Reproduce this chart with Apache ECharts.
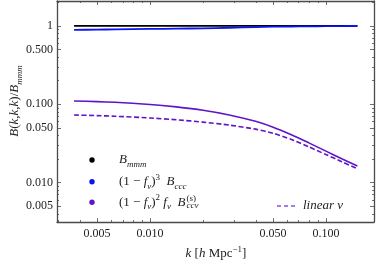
<!DOCTYPE html>
<html>
<head>
<meta charset="utf-8">
<script src="https://cdn.jsdelivr.net/npm/echarts@6/dist/echarts.min.js"></script>
<style>html,body{margin:0;padding:0;background:#fff}#c{width:379px;height:268px}</style>
</head>
<body>
<div id="c"></div>
<script>
// ---- data ----
const kValues = [0.0037, 0.005, 0.0063, 0.01, 0.0141, 0.02, 0.0282, 0.0398, 0.0501, 0.0631, 0.0794, 0.1, 0.123, 0.151];
const bMmm = [1, 1, 1, 1, 1, 1, 1, 1, 1, 1, 1, 1, 1, 1];
const bCcc = [0.889, 0.897, 0.903, 0.915, 0.922, 0.932, 0.948, 0.966, 0.977, 0.983, 0.988, 0.991, 0.996, 1.0];
const bCcvNonlinear = [0.1102, 0.1080, 0.1059, 0.0995, 0.0925, 0.0838, 0.0731, 0.0605, 0.0509, 0.0411, 0.0324, 0.0252, 0.0201, 0.0163];
const bCcvLinear = [0.0729, 0.0716, 0.0703, 0.0668, 0.0634, 0.0592, 0.0542, 0.0481, 0.0427, 0.0358, 0.0288, 0.0228, 0.0185, 0.0150];

const xTickValues = [0.005, 0.01, 0.05, 0.1];
const xTickLabels = ['0.005', '0.010', '0.050', '0.100'];
const xMinorTicks = [0.003, 0.004, 0.006, 0.007, 0.008, 0.009, 0.02, 0.03, 0.04, 0.06, 0.07, 0.08, 0.09];
const yTickValues = [0.005, 0.01, 0.05, 0.1, 0.5, 1];
const yTickLabels = ['0.005', '0.010', '0.050', '0.100', '0.500', '1'];
const yMinorTicks = [0.004, 0.006, 0.007, 0.008, 0.009, 0.02, 0.03, 0.04, 0.06, 0.07, 0.08, 0.09, 0.2, 0.3, 0.4, 0.6, 0.7, 0.8, 0.9, 2];
const xRange = [0.00296, 0.1876];
const yRange = [0.00314, 2.08];

// ---- helpers ----
const L = Math.log10;
const pts = (ys) => kValues.map((k, i) => [L(k), L(ys[i])]);
const labelFor = (vals, labels) => (v) => {
  for (let i = 0; i < vals.length; i++) if (Math.abs(L(vals[i]) - v) < 1e-6) return labels[i];
  return '';
};
const FONT = 'Liberation Serif';
const frame = '#4a4a4a';

function xAx(pos, vals, len, withLabel, withLine) {
  return {
    type: 'value', position: pos, min: L(xRange[0]), max: L(xRange[1]),
    axisLine: { show: withLine, onZero: false, lineStyle: { color: frame, width: 1.3 } },
    axisTick: { show: true, inside: true, length: len, customValues: vals.map(L), lineStyle: { color: frame, width: 0.8 } },
    axisLabel: withLabel ? { show: true, customValues: vals.map(L), formatter: labelFor(xTickValues, xTickLabels),
      fontFamily: FONT, fontSize: 12, color: '#222', margin: 6 } : { show: false },
    splitLine: { show: false }
  };
}
function yAx(pos, vals, len, withLabel, withLine) {
  return {
    type: 'value', position: pos, min: L(yRange[0]), max: L(yRange[1]),
    axisLine: { show: withLine, onZero: false, lineStyle: { color: frame, width: 1.3 } },
    axisTick: { show: true, inside: true, length: len, customValues: vals.map(L), lineStyle: { color: frame, width: 0.8 } },
    axisLabel: withLabel ? { show: true, customValues: vals.map(L), formatter: labelFor(yTickValues, yTickLabels),
      fontFamily: FONT, fontSize: 12, color: '#222', margin: 4 } : { show: false },
    splitLine: { show: false }
  };
}

const rich = {
  r: { fontFamily: FONT, fontSize: 13, lineHeight: 18, fill: '#222', fontStyle: 'normal' },
  i: { fontFamily: FONT, fontSize: 13, lineHeight: 18, fill: '#222', fontStyle: 'italic' },
  sb: { fontFamily: FONT, fontSize: 9, lineHeight: 10, fill: '#222', fontStyle: 'italic', verticalAlign: 'bottom' },
  sp: { fontFamily: FONT, fontSize: 9, lineHeight: 10, fill: '#222', fontStyle: 'normal', verticalAlign: 'top' }
};
function txt(x, y, text, align) {
  return { type: 'text', x: x, y: y, silent: true,
    style: { text: text, rich: rich, align: align || 'left', verticalAlign: 'middle', fill: '#222', font: '13px ' + FONT } };
}

const purple = '#5f14c8';
const blue = '#0a14f0';
const option = {
  animation: false,
  backgroundColor: '#fff',
  grid: { left: 57, right: 5, top: 1, bottom: 46 },
  xAxis: [
    xAx('bottom', xTickValues, 4, true, true),
    xAx('bottom', xMinorTicks, 2, false, false),
    xAx('top', xTickValues, 4, false, true),
    xAx('top', xMinorTicks, 2, false, false)
  ],
  yAxis: [
    yAx('left', yTickValues, 4, true, true),
    yAx('left', yMinorTicks, 2, false, false),
    yAx('right', yTickValues, 4, false, true),
    yAx('right', yMinorTicks, 2, false, false)
  ],
  series: [
    { type: 'line', data: pts(bCcvLinear), smooth: 0.2, showSymbol: false, lineStyle: { color: purple, width: 1.6, type: [5, 2.5] } },
    { type: 'line', data: pts(bCcvNonlinear), smooth: 0.2, showSymbol: false, lineStyle: { color: purple, width: 1.6 } },
    { type: 'line', data: pts(bMmm), showSymbol: false, lineStyle: { color: '#000', width: 1.6 } },
    { type: 'line', data: pts(bCcc), smooth: 0.2, showSymbol: false, lineStyle: { color: blue, width: 1.8 } }
  ],
  graphic: [
    { type: 'circle', shape: { cx: 92, cy: 160, r: 2.7 }, style: { fill: '#000' }, silent: true },
    { type: 'circle', shape: { cx: 92, cy: 181.7, r: 2.7 }, style: { fill: blue }, silent: true },
    { type: 'circle', shape: { cx: 92, cy: 202.3, r: 2.7 }, style: { fill: purple }, silent: true },
    txt(119, 160, '{i|B}{sb|mmm}'),
    txt(119, 181.7, '{r|(1 − }{i|f}{sb|ν}{r|)}{sp|3}{i|  B}{sb|ccc}'),
    txt(119, 202.3, '{r|(1 − }{i|f}{sb|ν}{r|)}{sp|2}{i| f}{sb|ν}{i|  B}'),
    txt(186.5, 199, '{sp|(s)}'),
    txt(186.5, 205, '{sb|ccν}'),
    { type: 'line', shape: { x1: 277, y1: 206, x2: 296, y2: 206 }, style: { stroke: '#8850dc', lineWidth: 1.5, lineDash: [4, 3] }, silent: true },
    txt(303, 206, '{i|linear ν}'),
    txt(216, 254, '{i|k}{r| [}{i|h}{r| Mpc}{sp|−1}{r|]}', 'center'),
    { type: 'text', x: 15, y: 101, rotation: Math.PI / 2, silent: true,
      style: { text: '{i|B}{r|(}{i|k}{r|,}{i|k}{r|,}{i|k}{r|)/}{i|B}{sb|mmm}', rich: rich, align: 'center', verticalAlign: 'middle' } }
  ]
};
const chart = echarts.init(document.getElementById('c'), null, { renderer: 'canvas' });
chart.setOption(option);
</script>
</body>
</html>
